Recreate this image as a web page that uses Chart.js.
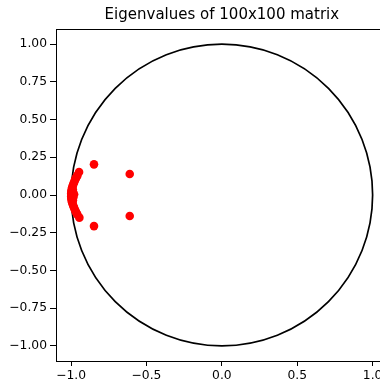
<!DOCTYPE html>
<html>
<head>
<meta charset="utf-8">
<script src="https://cdn.jsdelivr.net/npm/chart.js@4/dist/chart.umd.min.js"></script>
<style>
html,body{margin:0;padding:0;overflow:hidden;background:#fff;}
#wrap{width:392px;height:383px;}
</style>
</head>
<body>
<div id="wrap"><canvas id="c" width="392" height="383"></canvas></div>
<script>
const realPart = [
  -0.848, -0.848, -0.611, -0.611, -0.947, -0.945,
  -0.999, -0.999, -0.999, -0.998, -0.998, -0.997, -0.997, -0.995, -0.995,
  -0.993, -0.993, -0.989, -0.989, -0.986, -0.986, -0.982, -0.982,
  -0.978, -0.978, -0.974, -0.974, -0.969, -0.969, -0.964, -0.964, -0.958, -0.958,
  -0.992, -0.990, -0.985, -0.980, -0.988, -0.988
];
const imagPart = [
  0.203, -0.206, 0.139, -0.139, 0.152, -0.150,
  0.000, 0.010, -0.010, 0.020, -0.020, 0.030, -0.030, 0.040, -0.040,
  0.050, -0.050, 0.060, -0.060, 0.070, -0.070, 0.080, -0.080,
  0.090, -0.090, 0.100, -0.100, 0.110, -0.110, 0.120, -0.120, 0.130, -0.130,
  0.000, 0.015, -0.015, 0.005, 0.035, -0.035
];
const xTicks = [-1.0, -0.5, 0.0, 0.5, 1.0];
const yTicks = [-1.0, -0.75, -0.5, -0.25, 0.0, 0.25, 0.5, 0.75, 1.0];
const axisMin = -1.1, axisMax = 1.1;
const circleRadius = 1.0;
const titleText = 'Eigenvalues of 100x100 matrix';

const points = realPart.map((x, i) => ({x: x, y: imagPart[i]}));
const fmt = (v, d) => (v < 0 ? '\u2212' : '') + Math.abs(v).toFixed(d);

const unitCircle = {
  id: 'unitCircle',
  beforeDatasetsDraw(chart) {
    const {ctx, chartArea, scales} = chart;
    const cx = scales.x.getPixelForValue(0), cy = scales.y.getPixelForValue(0);
    const rx = scales.x.getPixelForValue(circleRadius) - cx;
    const ry = cy - scales.y.getPixelForValue(circleRadius);
    ctx.save();
    ctx.beginPath();
    ctx.rect(chartArea.left, chartArea.top, chartArea.right - chartArea.left, chartArea.bottom - chartArea.top);
    ctx.clip();
    ctx.beginPath();
    ctx.ellipse(cx, cy, rx, ry, 0, 0, Math.PI * 2);
    ctx.strokeStyle = '#000';
    ctx.lineWidth = 1.7;
    ctx.stroke();
    ctx.restore();
  },
  afterDraw(chart) {
    const {ctx, chartArea} = chart;
    ctx.save();
    ctx.strokeStyle = '#000';
    ctx.lineWidth = 1;
    ctx.strokeRect(chartArea.left + 0.5, chartArea.top + 0.5, chartArea.right - chartArea.left, chartArea.bottom - chartArea.top);
    ctx.fillStyle = '#000';
    ctx.font = '15px "DejaVu Sans"';
    ctx.textAlign = 'center';
    ctx.textBaseline = 'middle';
    ctx.fillText(titleText, (chartArea.left + chartArea.right) / 2, 15);
    ctx.restore();
  }
};

const tickFont = {family: '"DejaVu Sans", sans-serif', size: 12.3};

new Chart(document.getElementById('c'), {
  type: 'scatter',
  data: {
    datasets: [{
      data: points,
      backgroundColor: '#ff0000',
      borderColor: '#ff0000',
      pointRadius: 4.3,
      pointBorderWidth: 0
    }]
  },
  plugins: [unitCircle],
  options: {
    responsive: false,
    animation: false,
    layout: {padding: {left: 0, right: 3.6, top: 29, bottom: 0}},
    plugins: {
      legend: {display: false},
      tooltip: {enabled: false},
      title: {display: false}
    },
    scales: {
      x: {
        type: 'linear',
        min: axisMin, max: axisMax,
        afterBuildTicks: s => { s.ticks = xTicks.map(v => ({value: v})); },
        afterFit: s => { s.height = 22; },
        grid: {drawOnChartArea: false, drawTicks: true, tickLength: 5, color: '#000'},
        border: {display: true, color: '#000', width: 1},
        ticks: {
          color: '#000', padding: 2, maxRotation: 0, autoSkip: false,
          font: tickFont,
          callback: v => fmt(v, 1)
        }
      },
      y: {
        type: 'linear',
        min: axisMin, max: axisMax,
        afterBuildTicks: s => { s.ticks = yTicks.map(v => ({value: v})); },
        afterFit: s => { s.width = 56; },
        grid: {drawOnChartArea: false, drawTicks: true, tickLength: 6, color: '#000'},
        border: {display: true, color: '#000', width: 1},
        ticks: {
          color: '#000', padding: 3, autoSkip: false,
          font: tickFont,
          callback: v => fmt(v, 2)
        }
      }
    }
  }
});
</script>
</body>
</html>
